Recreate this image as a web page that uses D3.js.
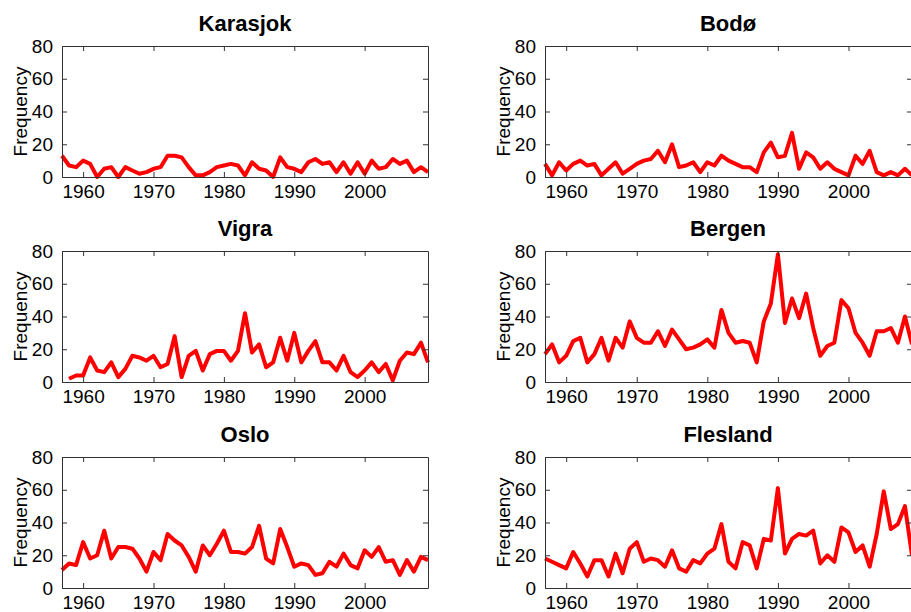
<!DOCTYPE html>
<html>
<head>
<meta charset="utf-8">
<script src="https://cdn.jsdelivr.net/npm/d3@7"></script>
<style>
  html, body { margin: 0; padding: 0; background: #fff; }
  svg { display: block; }
</style>
</head>
<body>
<svg id="chart" width="911" height="612"></svg>
<script>
// ---- Data ----
const years5709 = d3.range(1957, 2010);
const years5809 = d3.range(1958, 2010);

const stations = ["Karasjok", "Bodø", "Vigra", "Bergen", "Oslo", "Flesland"];

const karasjok = [13,7,6,10,8,0,5,6,0,6,4,2,3,5,6,13,13,12,6,1,1,3,6,7,8,7,1,9,5,4,0,12,6,5,3,9,11,8,9,3,9,2,9,2,10,5,6,11,8,10,3,6,3];
const bodo = [8,1,9,4,8,10,7,8,1,5,9,2,5,8,10,11,16,9,20,6,7,9,3,9,7,13,10,8,6,6,3,15,21,12,13,27,5,15,12,5,9,5,3,1,13,8,16,3,1,3,1,5,1];
const vigra = [2,4,4,15,7,6,12,3,8,16,15,13,16,9,11,28,3,16,19,7,17,19,19,13,19,42,18,23,9,12,27,13,30,12,19,25,12,12,7,16,6,3,7,12,6,11,1,13,18,17,24,12];
const bergen = [17,23,12,16,25,27,12,17,27,13,27,21,37,27,24,24,31,22,32,26,20,21,23,26,21,44,30,24,25,24,12,37,48,78,36,51,39,54,33,16,22,24,50,45,30,24,16,31,31,33,24,40,23];
const oslo = [11,15,14,28,18,20,35,18,25,25,24,18,10,22,17,33,29,26,19,10,26,20,27,35,22,22,21,25,38,18,15,36,25,13,15,14,8,9,16,13,21,14,12,23,19,25,16,17,8,17,10,19,17];
const flesland = [18,16,14,12,22,15,7,17,17,7,21,9,24,28,16,18,17,13,23,12,10,17,15,21,24,39,16,12,28,26,12,30,29,61,21,30,33,32,35,15,20,16,37,34,22,26,13,33,59,36,39,50,20];

const seriesValues = [karasjok, bodo, vigra, bergen, oslo, flesland];
const seriesYears = [years5709, years5709, years5809, years5709, years5709, years5709];

const xDomain = [1957, 2009];
const yDomain = [0, 80];
const xTicks = [1960, 1970, 1980, 1990, 2000];
const yTicks = [0, 20, 40, 60, 80];
const yLabel = "Frequency";

// ---- Layout ----
const colX = [[62, 428], [545, 912]];
const rowY = [46, 251, 457];
const plotH = 131;

const svg = d3.select("#chart");
const FONT = "'Liberation Sans', Arial, Helvetica, sans-serif";

stations.forEach((name, i) => {
  const c = i % 2, r = Math.floor(i / 2);
  const [x0, x1] = colX[c];
  const y0 = rowY[r], y1 = y0 + plotH;

  const x = d3.scaleLinear().domain(xDomain).range([x0, x1]);
  const y = d3.scaleLinear().domain(yDomain).range([y1, y0]);

  const g = svg.append("g");

  // title
  g.append("text")
    .attr("x", (x0 + Math.min(x1, 911)) / 2)
    .attr("y", y0 - 15)
    .attr("text-anchor", "middle")
    .style("font-family", FONT)
    .style("font-weight", "bold")
    .style("font-size", "22px")
    .text(name);

  // data line
  const data = seriesYears[i].map((yr, k) => [yr, seriesValues[i][k]]);
  g.append("path")
    .datum(data)
    .attr("fill", "none")
    .attr("stroke", "#ff0000")
    .attr("stroke-width", 4)
    .attr("stroke-linejoin", "round")
    .attr("d", d3.line().x(d => x(d[0])).y(d => y(d[1])));

  // axes (MATLAB-style box, inward ticks)
  const bottom = d3.axisBottom(x).tickValues(xTicks).tickFormat(d3.format("d")).tickSizeInner(-5).tickSizeOuter(0).tickPadding(8);
  const top = d3.axisTop(x).tickValues(xTicks).tickFormat("").tickSizeInner(-5).tickSizeOuter(0);
  const left = d3.axisLeft(y).tickValues(yTicks).tickSizeInner(-5).tickSizeOuter(0).tickPadding(9);
  const right = d3.axisRight(y).tickValues(yTicks).tickFormat("").tickSizeInner(-5).tickSizeOuter(0);

  const styleAxis = sel => {
    sel.selectAll(".domain").attr("stroke", "#333");
    sel.selectAll(".tick line").attr("stroke", "#333");
    sel.selectAll("text").style("font-family", FONT).style("font-size", "19px").attr("fill", "#000");
  };

  g.append("g").attr("transform", `translate(0,${y1})`).call(bottom).call(styleAxis);
  g.append("g").attr("transform", `translate(0,${y0})`).call(top).call(styleAxis);
  g.append("g").attr("transform", `translate(${x0},0)`).call(left).call(styleAxis);
  g.append("g").attr("transform", `translate(${x1},0)`).call(right).call(styleAxis);

  // y label
  g.append("text")
    .attr("transform", `translate(${x0 - 35},${(y0 + y1) / 2}) rotate(-90)`)
    .attr("text-anchor", "middle")
    .style("font-family", FONT)
    .style("font-size", "19px")
    .text(yLabel);
});
</script>
</body>
</html>
